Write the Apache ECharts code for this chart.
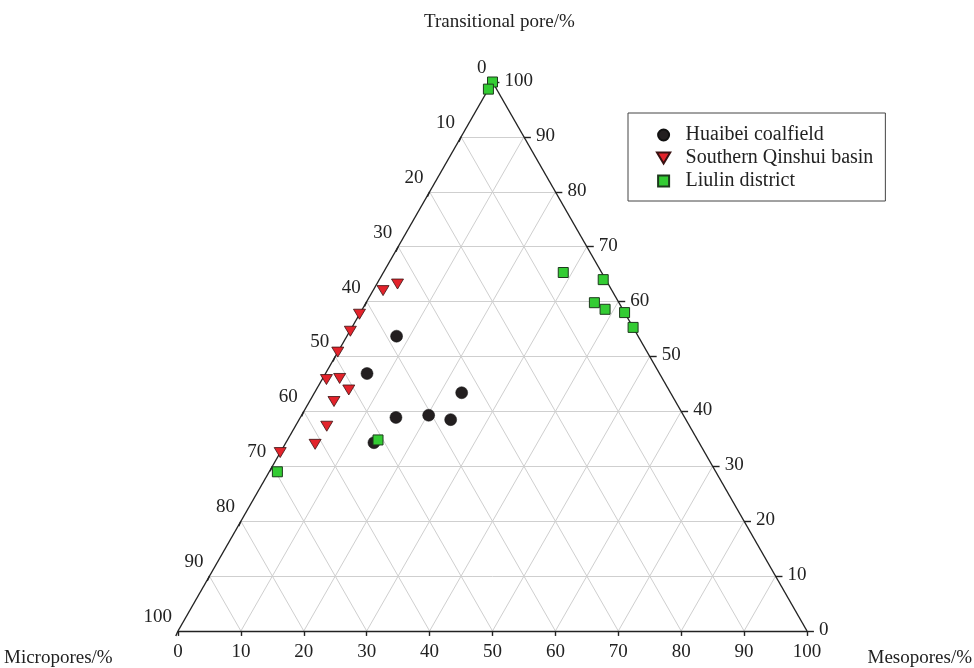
<!DOCTYPE html>
<html>
<head>
<meta charset="utf-8">
<script src="https://cdn.jsdelivr.net/npm/echarts@6/dist/echarts.min.js"></script>
<style>
html,body{margin:0;padding:0;background:#fff;}
#main{width:974px;height:668px;}
</style>
</head>
<body>
<div id="main"></div>
<script>
// Ternary data: each point is [Micropores %, Transitional pore %, Mesopores %]
const huaibei = [
  [38.4, 53.7, 7.9],
  [46.5, 46.9, 6.6],
  [45.9, 38.9, 15.2],
  [51.7, 34.3, 14.0],
  [40.5, 39.3, 20.2],
  [37.4, 38.5, 24.1],
  [33.2, 43.4, 23.4]
];
const qinshui = [
  [36.4, 62.0, 1.6],
  [33.5, 63.2, 3.3],
  [42.3, 57.7, 0.0],
  [45.3, 54.6, 0.1],
  [49.2, 50.8, 0.0],
  [53.5, 45.8, 0.7],
  [51.3, 46.0, 2.7],
  [50.9, 43.9, 5.2],
  [54.3, 41.8, 3.9],
  [57.7, 37.3, 5.0],
  [61.2, 34.0, 4.8],
  [67.5, 32.5, 0.0]
];
const liulin = [
  [0.0, 100.0, 0.0],
  [1.3, 98.7, 0.0],
  [6.1, 65.3, 28.6],
  [0.4, 64.0, 35.6],
  [3.9, 59.8, 36.3],
  [2.8, 58.6, 38.6],
  [0.0, 58.0, 42.0],
  [0.0, 55.3, 44.7],
  [50.8, 34.8, 14.4],
  [69.7, 29.0, 1.3]
];
const seriesNames = ['Huaibei coalfield', 'Southern Qinshui basin', 'Liulin district'];
const tickValues = [0, 10, 20, 30, 40, 50, 60, 70, 80, 90, 100];
const axisTitles = ['Transitional pore/%', 'Micropores/%', 'Mesopores/%'];

// ternary -> cartesian (x: 0..100 along base, y: transitional %)
function toXY(p) {
  const t = p[1], s = p[2];
  return [s + t / 2, t];
}

const FONT = '"Liberation Serif", "DejaVu Serif", serif';
const TXT = '#222';
const TRI = 'path://M0,0L12,0L6,10Z';
const SQR = 'path://M0,0L10,0L10,10L0,10Z';

// grid lines
const gridLines = [];
for (let i = 1; i < 10; i++) {
  const v = i * 10;
  gridLines.push({coords: [toXY([100 - v, v, 0]), toXY([0, v, 100 - v])]});
  gridLines.push({coords: [toXY([100 - v, 0, v]), toXY([0, 100 - v, v])]});
  gridLines.push({coords: [toXY([v, 0, 100 - v]), toXY([v, 100 - v, 0])]});
}
const frame = [
  {coords: [toXY([100, 0, 0]), toXY([0, 0, 100])]},
  {coords: [toXY([0, 0, 100]), toXY([0, 100, 0])]},
  {coords: [toXY([0, 100, 0]), toXY([100, 0, 0])]}
];
const ticks = [];
tickValues.forEach(v => {
  let a = toXY([100 - v, 0, v]);
  ticks.push({coords: [a, [a[0], a[1] - 0.9]]});
  a = toXY([v, 100 - v, 0]);
  ticks.push({coords: [a, [a[0] - 0.35, a[1] - 0.9]]});
  a = toXY([0, v, 100 - v]);
  ticks.push({coords: [a, [a[0] + 1.1, a[1]]]});
});

function labelSeries(points, offset, align) {
  return {
    type: 'scatter',
    silent: true,
    symbolSize: 0,
    data: points,
    z: 5,
    itemStyle: {opacity: 1},
    label: {
      show: true,
      position: offset,
      align: align,
      verticalAlign: 'middle',
      formatter: p => String(p.data[2]),
      fontFamily: FONT,
      fontSize: 19,
      color: TXT,
      opacity: 1
    }
  };
}
const bottomLabels = tickValues.map(v => { const a = toXY([100 - v, 0, v]); return [a[0], a[1], v]; });
const leftLabels = tickValues.map(v => { const a = toXY([v, 100 - v, 0]); return [a[0], a[1], v]; });
const rightLabels = tickValues.map(v => { const a = toXY([0, v, 100 - v]); return [a[0], a[1], v]; });

const chart = echarts.init(document.getElementById('main'), null, {renderer: 'canvas'});
chart.setOption({
  animation: false,
  backgroundColor: '#fff',
  grid: {left: 178, right: 167, top: 82, bottom: 37},
  xAxis: {type: 'value', min: 0, max: 100, show: false},
  yAxis: {type: 'value', min: 0, max: 100, show: false},
  legend: {
    orient: 'vertical',
    left: 628,
    top: 113,
    data: [
      {name: seriesNames[0], icon: 'circle'},
      {name: seriesNames[1], icon: TRI},
      {name: seriesNames[2], icon: SQR}
    ],
    borderColor: '#444',
    borderWidth: 1,
    padding: [12, 12, 10, 28],
    itemGap: 3,
    itemWidth: 34,
    itemHeight: 11,
    textStyle: {fontFamily: FONT, fontSize: 20, color: TXT}
  },
  graphic: [
    {type: 'text', left: 424, top: 13, style: {text: axisTitles[0], font: '19px ' + FONT, fill: TXT}},
    {type: 'text', left: 4, top: 649, style: {text: axisTitles[1], font: '19px ' + FONT, fill: TXT}},
    {type: 'text', right: 2, top: 649, style: {text: axisTitles[2], font: '19px ' + FONT, fill: TXT}}
  ],
  series: [
    {type: 'lines', coordinateSystem: 'cartesian2d', silent: true, clip: false, z: 1,
     lineStyle: {color: '#cfcfcf', width: 1, opacity: 1}, data: gridLines},
    {type: 'lines', coordinateSystem: 'cartesian2d', silent: true, clip: false, z: 2,
     lineStyle: {color: '#222', width: 1.4, opacity: 1}, data: frame.concat(ticks)},
    labelSeries(bottomLabels, [0, 21], 'center'),
    labelSeries(leftLabels, [-6, -14], 'right'),
    labelSeries(rightLabels, [12, -1], 'left'),
    {name: seriesNames[0], type: 'scatter', z: 10, symbol: 'circle', symbolSize: 12,
     itemStyle: {color: '#231f20', borderColor: '#111', borderWidth: 0.5, opacity: 1},
     data: huaibei.map(toXY)},
    {name: seriesNames[1], type: 'scatter', z: 11, symbol: TRI, symbolSize: [12, 10],
     itemStyle: {color: '#e3232b', borderColor: '#3a1212', borderWidth: 0.8, opacity: 1},
     data: qinshui.map(toXY)},
    {name: seriesNames[2], type: 'scatter', z: 12, symbol: SQR, symbolSize: 10,
     itemStyle: {color: '#33cc33', borderColor: '#1d3a1d', borderWidth: 1, opacity: 1},
     data: liulin.map(toXY)}
  ]
});
</script>
</body>
</html>
